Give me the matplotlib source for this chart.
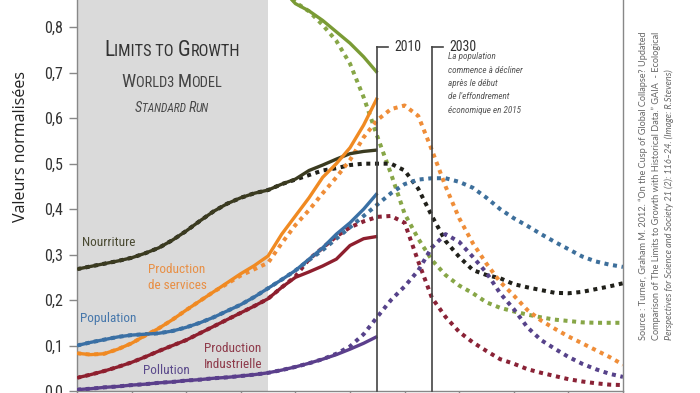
import matplotlib
matplotlib.use("Agg")
import matplotlib.pyplot as plt
from matplotlib import font_manager
from matplotlib.offsetbox import TextArea, HPacker, AnnotationBbox

names = {f.name for f in font_manager.fontManager.ttflist}
NARROW = 'DejaVu Sans'
for cand in ['Roboto Condensed', 'Liberation Sans Narrow', 'Roboto', 'Lato']:
    if cand in names:
        NARROW = cand
        break
SRC = 'Lato' if 'Lato' in names else 'DejaVu Sans'

# ---------------- data ----------------
years_hist = [1900, 1905, 1910, 1915, 1920, 1925, 1930, 1935, 1940, 1945, 1950, 1955,
              1960, 1965, 1970, 1975, 1980, 1985, 1990, 1995, 2000, 2005, 2010]
years_model = list(range(1900, 2101, 5))

food_hist = [0.268, 0.274, 0.28, 0.286, 0.293, 0.303, 0.315, 0.332, 0.352, 0.374, 0.395, 0.412,
             0.425, 0.435, 0.442, 0.455, 0.466, 0.485, 0.497, 0.51, 0.522, 0.527, 0.53]
services_hist = [0.083, 0.080, 0.082, 0.092, 0.105, 0.122, 0.138, 0.157, 0.178, 0.198, 0.218, 0.238,
                 0.258, 0.276, 0.297, 0.345, 0.385, 0.425, 0.47, 0.5, 0.535, 0.585, 0.645]
pop_hist = [0.100, 0.107, 0.113, 0.119, 0.123, 0.125, 0.127, 0.132, 0.140, 0.150, 0.162, 0.176,
            0.190, 0.207, 0.226, 0.245, 0.265, 0.29, 0.315, 0.345, 0.37, 0.40, 0.435]
indus_hist = [0.029, 0.036, 0.044, 0.053, 0.063, 0.075, 0.088, 0.100, 0.112, 0.127, 0.142, 0.157,
              0.172, 0.187, 0.203, 0.228, 0.25, 0.262, 0.275, 0.29, 0.32, 0.335, 0.34]
pollu_hist = [0.003, 0.005, 0.008, 0.010, 0.013, 0.015, 0.018, 0.020, 0.023, 0.025, 0.028, 0.030,
              0.033, 0.036, 0.040, 0.046, 0.053, 0.061, 0.070, 0.080, 0.092, 0.105, 0.120]
resour_hist = [1.0, 0.998, 0.995, 0.992, 0.99, 0.986, 0.982, 0.978, 0.973, 0.968, 0.962, 0.955,
               0.945, 0.932, 0.915, 0.885, 0.852, 0.836, 0.815, 0.79, 0.765, 0.735, 0.70]

food_model = [0.268, 0.274, 0.28, 0.286, 0.293, 0.303, 0.315, 0.332, 0.352, 0.374, 0.395, 0.412,
              0.425, 0.435, 0.442, 0.455, 0.465, 0.475, 0.485, 0.49, 0.497, 0.50, 0.50,
              0.50, 0.485, 0.445, 0.385, 0.33, 0.295, 0.266, 0.255, 0.248, 0.235, 0.228,
              0.222, 0.216, 0.215, 0.218, 0.224, 0.23, 0.237]
services_model = [0.083, 0.080, 0.082, 0.092, 0.105, 0.122, 0.138, 0.157, 0.178, 0.198, 0.218, 0.236,
                  0.254, 0.268, 0.282, 0.325, 0.365, 0.398, 0.435, 0.47, 0.508, 0.558, 0.596,
                  0.62, 0.628, 0.605, 0.53, 0.45, 0.38, 0.325, 0.28, 0.24, 0.21, 0.178,
                  0.155, 0.137, 0.12, 0.105, 0.09, 0.075, 0.058]
pop_model = [0.100, 0.107, 0.113, 0.119, 0.123, 0.125, 0.127, 0.132, 0.140, 0.150, 0.162, 0.176,
             0.190, 0.207, 0.226, 0.245, 0.265, 0.288, 0.31, 0.335, 0.36, 0.385, 0.41,
             0.435, 0.455, 0.465, 0.468, 0.468, 0.46, 0.447, 0.425, 0.40, 0.38, 0.363,
             0.345, 0.328, 0.312, 0.296, 0.285, 0.278, 0.273]
indus_model = [0.029, 0.036, 0.044, 0.053, 0.063, 0.075, 0.088, 0.100, 0.112, 0.127, 0.142, 0.157,
               0.172, 0.187, 0.203, 0.228, 0.252, 0.29, 0.315, 0.34, 0.36, 0.373, 0.383,
               0.385, 0.37, 0.285, 0.205, 0.163, 0.13, 0.107, 0.088, 0.07, 0.06, 0.048,
               0.04, 0.033, 0.026, 0.021, 0.017, 0.014, 0.013]
pollu_model = [0.003, 0.005, 0.008, 0.010, 0.013, 0.015, 0.018, 0.020, 0.023, 0.025, 0.028, 0.030,
               0.033, 0.036, 0.040, 0.046, 0.053, 0.061, 0.070, 0.082, 0.098, 0.125, 0.163,
               0.2, 0.23, 0.265, 0.316, 0.345, 0.328, 0.295, 0.26, 0.215, 0.18, 0.14,
               0.112, 0.093, 0.075, 0.06, 0.048, 0.038, 0.031]
resour_model = [1.0, 0.998, 0.995, 0.992, 0.99, 0.986, 0.982, 0.978, 0.973, 0.968, 0.962, 0.955,
                0.945, 0.932, 0.915, 0.885, 0.855, 0.835, 0.805, 0.77, 0.72, 0.646, 0.56,
                0.478, 0.39, 0.335, 0.288, 0.255, 0.232, 0.215, 0.195, 0.183, 0.175, 0.168,
                0.162, 0.157, 0.154, 0.151, 0.15, 0.15, 0.15]

ytick_vals = [0.0, 0.1, 0.2, 0.3, 0.4, 0.5, 0.6, 0.7, 0.8]
ytick_labels = ['0,0', '0,1', '0,2', '0,3', '0,4', '0,5', '0,6', '0,7', '0,8']
xtick_vals = list(range(1900, 2101, 20))
shade_span = (1900, 1970)
marker_years = [2010, 2030]
marker_labels = ['2010', '2030']

series = [
    # model, hist, dotted colour, solid colour
    (resour_model, resour_hist, '#87a647', '#7a9b35'),
    (food_model, food_hist, '#20201a', '#3b3b20'),
    (services_model, services_hist, '#ef8d38', '#f08a22'),
    (pop_model, pop_hist, '#3d6f9b', '#3a70a5'),
    (indus_model, indus_hist, '#8a2236', '#8e1f2e'),
    (pollu_model, pollu_hist, '#56428a', '#5b3f8c'),
]

# ---------------- figure ----------------
fig = plt.figure(figsize=(7.0, 3.93), dpi=100)
ax = fig.add_axes([77/700, 2/393, 546/700, 391/393])
ax.set_xlim(1900, 2100)
ax.set_ylim(0, 0.86)

ax.axvspan(*shade_span, color='#dadada', zorder=0, lw=0)

for model, hist, cdot, csol in series:
    ax.plot(years_model, model, color=cdot, lw=2.9, linestyle=(0, (1, 1.15)),
            dash_capstyle='butt', zorder=2)
for model, hist, cdot, csol in series:
    ax.plot(years_hist, hist, color=csol, lw=2.4, solid_capstyle='butt', zorder=3)

# year markers
for yr, lab in zip(marker_years, marker_labels):
    ax.plot([yr, yr], [0, 0.757], color='#444444', lw=1.2, zorder=4, clip_on=False)
    ax.plot([yr, yr + 4], [0.757, 0.757], color='#444444', lw=1.2, zorder=4)
    ax.text(yr + 6.3, 0.757, lab, fontsize=10, family=NARROW, color='#333333',
            va='center', ha='left')

ax.text(2035.8, 0.745,
        "La population\ncommence à décliner\naprès le début\nde l'effondrement\néconomique en 2015",
        fontsize=6.6, family=NARROW, style='italic', color='#555555', va='top', ha='left',
        linespacing=1.62)

# title in small caps
def smallcaps(parts, big, small, color, style='normal'):
    kids = []
    for txt, isbig in parts:
        kids.append(TextArea(txt, textprops=dict(fontsize=big if isbig else small,
                                                 family=NARROW, color=color,
                                                 style=style)))
    return HPacker(children=kids, align='baseline', pad=0, sep=0)

t1 = smallcaps([('L', True), ('IMITS TO ', False), ('G', True), ('ROWTH', False)], 15.5, 11.8, '#333333')
t2 = smallcaps([('W', True), ('ORLD3 ', False), ('M', True), ('ODEL', False)], 13.4, 10.4, '#444444')
t3 = smallcaps([('S', True), ('TANDARD ', False), ('R', True), ('UN', False)], 10.3, 8.3, '#4a4a4a', 'italic')
for box, ypx in [(t1, 50), (t2, 82), (t3, 108)]:
    ab = AnnotationBbox(box, (172/700, 1 - ypx/393), xycoords='figure fraction',
                        frameon=False, box_alignment=(0.5, 0.5), pad=0)
    fig.add_artist(ab)

# series labels
lab_kw = dict(family=NARROW, fontsize=9.5, va='center', ha='left')
ax.text(1901.8, 0.327, 'Nourriture', color='#4a4a32', **lab_kw)
ax.text(1926, 0.25, 'Production\nde services', color='#e88f45', linespacing=1.3, **lab_kw)
ax.text(1901.2, 0.16, 'Population', color='#4677ab', **lab_kw)
ax.text(1924, 0.046, 'Pollution', color='#5b4a8c', **lab_kw)
ax.text(1946.5, 0.075, 'Production\nIndustrielle', color='#8e3a4a', linespacing=1.3, **lab_kw)

# axes styling
ax.spines['top'].set_visible(False)
for s in ['left', 'right', 'bottom']:
    ax.spines[s].set_color('#888888')
    ax.spines[s].set_linewidth(1.0)
ax.set_yticks(ytick_vals)
ax.set_yticklabels(ytick_labels)
ax.set_xticks(xtick_vals)
ax.set_xticklabels([])
ax.tick_params(axis='y', direction='out', length=6, width=1, color='#888888',
               labelsize=11.5, labelcolor='#333333', pad=4)
ax.tick_params(axis='x', direction='out', length=4, width=1, color='#888888')
for lbl in ax.get_yticklabels():
    lbl.set_family(NARROW)

fig.text(21/700, 1 - 146/393, 'Valeurs normalisées', rotation=90, fontsize=11.5,
         family='Open Sans', color='#222222', ha='center', va='center')

src_lines = ["Source : Turner, Graham M. 2012. \u201cOn the Cusp of Global Collapse? Updated",
             "Comparison of The Limits to Growth with Historical Data.\u201d GAIA  - Ecological",
             "Perspectives for Science and Society 21 (2): 116\u201324. (Image: R.Stevens)"]
for i, (xp, line) in enumerate(zip([643, 656, 669], src_lines)):
    fig.text(xp/700, 1 - 340/393, line, rotation=90, fontsize=6.55, family=SRC,
             color='#666666', ha='center', va='bottom',
             style='italic' if i == 2 else 'normal')

fig.savefig('out.png', dpi=100)
